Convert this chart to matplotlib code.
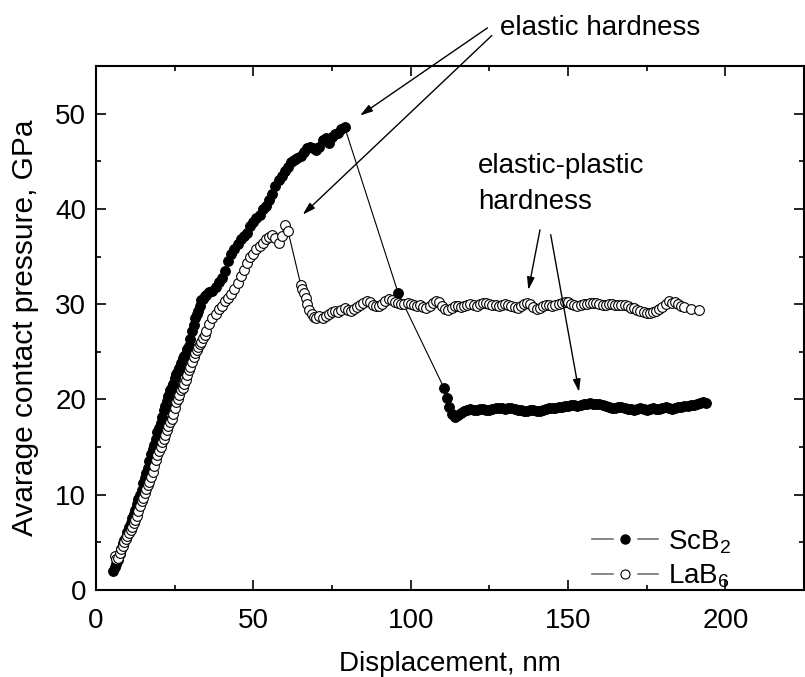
import numpy as np
import matplotlib.pyplot as plt
from matplotlib.lines import Line2D
from matplotlib.legend_handler import HandlerTuple
from matplotlib.ticker import MultipleLocator

plt.rcParams['font.family'] = ['Liberation Sans', 'DejaVu Sans']
plt.rcParams['mathtext.fontset'] = 'custom'
plt.rcParams['mathtext.rm'] = 'Liberation Sans'
plt.rcParams['mathtext.it'] = 'Liberation Sans'

# ScB2 - loading part, sudden drop, plateau
scb2_x = [5.5, 6, 6.5, 7, 7.5, 8, 8.5, 9, 9.5, 10, 10.5, 11, 11.5, 12, 12.5, 13, 13.5, 14, 14.5, 15,
          15.5, 16, 16.5, 17, 17.5, 18, 18.5, 19, 19.5, 20, 20.5, 21, 21.5, 22, 22.5, 23, 23.5, 24, 24.5, 25,
          25.5, 26, 26.5, 27, 27.5, 28, 28.5, 29, 29.5, 30, 30.5, 31, 31.5, 32, 32.5, 33, 33.5, 34, 34.5,
          35, 36, 37, 38, 39, 40, 41, 42, 43, 44, 45, 46, 47, 48, 49, 50, 51, 52, 53, 54, 55, 56, 57, 58,
          59, 60, 61, 62, 63, 64, 65, 66, 67, 68, 69, 70, 71, 72, 73, 74, 75, 76, 77, 78, 79,
          96, 110.6, 111.5, 112.3, 113, 114,
          115, 116, 117, 118, 119, 120, 121, 122, 123, 124, 125, 126, 127, 128, 129, 130, 131, 132, 133, 134,
          135, 136, 137, 138, 139, 140, 141, 142, 143, 144, 145, 146, 147, 148, 149, 150, 151, 152, 153, 154,
          155, 156, 157, 158, 159, 160, 161, 162, 163, 164, 165, 166, 167, 168, 169, 170, 171, 172, 173, 174,
          175, 176, 177, 178, 179, 180, 181, 182, 183, 184, 185, 186, 187, 188, 189, 190, 191, 192, 193, 194]
scb2_y = [2.0, 2.4, 2.7, 3.2, 3.8, 4.3, 4.9, 5.3, 5.6, 6.1, 6.6, 7.0, 7.6, 8.0, 8.4, 9.0, 9.6, 10.0, 10.5, 11.2,
          11.8, 12.3, 12.8, 13.5, 14.3, 14.8, 15.2, 15.9, 16.6, 17.0, 17.5, 18.2, 18.9, 19.3, 19.8, 20.4, 21.0, 21.3, 21.6, 22.2,
          22.7, 23.0, 23.3, 23.8, 24.4, 24.6, 24.8, 25.3, 25.6, 26.3, 27.2, 27.8, 28.6, 29.0, 29.3, 29.8, 30.4, 30.5, 30.9,
          31.0, 31.3, 31.4, 31.8, 32.3, 32.8, 33.5, 34.5, 35.3, 35.8, 36.3, 36.8, 37.2, 37.5, 38.2, 38.6, 39.0, 39.4, 40.0, 40.3, 40.9, 41.6, 42.4, 43.0,
          43.5, 44.0, 44.4, 44.9, 45.1, 45.3, 45.6, 46.0, 46.4, 46.5, 46.4, 46.2, 46.5, 47.2, 47.4, 46.9, 47.5, 47.9, 48.0, 48.4, 48.6,
          31.2, 21.2, 20.2, 19.2, 18.5, 18.2,
          18.4, 18.6, 18.8, 18.9, 19.0, 18.9, 18.9, 19.0, 19.0, 18.9, 18.9, 19.0, 19.1, 19.1, 19.1, 19.0, 19.1, 19.1, 19.0, 18.9,
          18.9, 18.8, 18.8, 18.9, 18.9, 18.8, 18.8, 18.9, 19.0, 19.1, 19.1, 19.1, 19.2, 19.2, 19.3, 19.3, 19.4, 19.4, 19.3, 19.4,
          19.5, 19.5, 19.6, 19.5, 19.5, 19.5, 19.4, 19.3, 19.2, 19.1, 19.1, 19.2, 19.2, 19.1, 19.0, 19.0, 18.9, 19.0, 19.1, 19.0,
          18.9, 19.0, 19.1, 19.0, 19.0, 19.1, 19.2, 19.1, 19.0, 19.1, 19.2, 19.2, 19.3, 19.3, 19.4, 19.4, 19.5, 19.6, 19.7, 19.6]

# LaB6
lab6_x = [6, 6.5, 7, 7.5, 8, 8.5, 9, 9.5, 10, 10.5, 11, 11.5, 12, 12.5, 13, 13.5, 14, 14.5, 15, 15.5,
          16, 16.5, 17, 17.5, 18, 18.5, 19, 19.5, 20, 20.5, 21, 21.5, 22, 22.5, 23, 23.5, 24, 24.5, 25, 25.5,
          26, 26.5, 27, 27.5, 28, 28.5, 29, 29.5, 30, 30.5, 31, 31.5, 32, 32.5, 33, 33.5, 34, 34.5,
          35, 36, 37, 38, 39, 40, 41, 42, 43, 44, 45, 46, 47, 48, 49, 50, 51, 52, 53, 54, 55, 56, 57, 58, 59, 60, 61,
          65.1, 65.6, 66.2, 66.7, 67.2, 67.8, 68.5, 69.3, 70, 71, 72, 73, 74, 75, 76, 77, 78, 79, 80,
          81, 82, 83, 84, 85, 86, 87, 88, 89, 90, 91, 92, 93, 94, 95, 96, 97, 98, 99, 100,
          101, 102, 103, 104, 105, 106, 107, 108, 109, 110, 111, 112, 113, 114, 115, 116, 117, 118, 119, 120,
          121, 122, 123, 124, 125, 126, 127, 128, 129, 130, 131, 132, 133, 134, 135, 136, 137, 138, 139, 140,
          141, 142, 143, 144, 145, 146, 147, 148, 149, 150, 151, 152, 153, 154, 155, 156, 157, 158, 159, 160,
          161, 162, 163, 164, 165, 166, 167, 168, 169, 170, 171, 172, 173, 174, 175, 176, 177, 178, 179, 180,
          181, 182, 183, 184, 185, 186, 187, 189, 191.5]
lab6_y = [3.6, 3.3, 3.4, 3.9, 4.3, 4.6, 5.0, 5.4, 5.7, 6.0, 6.3, 6.6, 7.0, 7.3, 7.8, 8.3, 8.8, 9.3, 9.7, 10.2,
          10.6, 11.0, 11.3, 11.9, 12.4, 13.0, 13.6, 14.2, 14.6, 15.0, 15.5, 15.9, 16.3, 16.8, 17.2, 17.6, 18.0, 18.5, 19.1, 19.7,
          20.0, 20.5, 21.0, 21.2, 21.6, 22.0, 22.6, 23.1, 23.4, 23.9, 24.5, 24.9, 25.2, 25.5, 25.8, 26.0, 26.4, 26.8,
          27.2, 27.9, 28.5, 29.0, 29.5, 29.8, 30.3, 30.6, 31.1, 31.6, 32.2, 33.0, 33.6, 34.3, 35.0, 35.3, 35.8, 36.1, 36.4, 36.8, 37.0, 37.3, 36.9, 36.4, 37.2, 38.3, 37.7,
          32.0, 31.6, 31.2, 30.6, 30.0, 29.4, 29.0, 28.7, 28.6, 28.8, 28.5, 28.8, 29.0, 29.2, 29.3, 29.2, 29.4, 29.6, 29.4,
          29.3, 29.5, 29.7, 29.9, 30.1, 30.3, 30.2, 29.9, 29.8, 29.8, 30.0, 30.3, 30.5, 30.4, 30.2, 30.1, 30.0, 30.0, 30.1, 30.0,
          29.9, 29.8, 29.9, 29.7, 29.6, 29.8, 30.1, 30.3, 30.2, 29.8, 29.5, 29.4, 29.6, 29.8, 29.8, 29.7, 29.8, 29.9, 30.0, 29.9,
          29.8, 30.0, 30.1, 30.1, 30.0, 29.9, 29.9, 29.8, 29.9, 30.0, 29.9, 29.8, 29.7, 29.6, 29.8, 30.0, 30.1, 30.0, 29.7, 29.5,
          29.6, 29.8, 29.9, 29.9, 29.8, 29.9, 30.0, 30.1, 30.2, 30.2, 30.0, 29.9, 29.8, 29.9, 30.0, 30.0, 30.1, 30.1, 30.1, 30.0,
          29.9, 29.9, 30.0, 30.0, 29.9, 29.9, 29.9, 29.9, 29.8, 29.6, 29.6, 29.4, 29.3, 29.2, 29.1, 29.1, 29.2, 29.3, 29.5, 29.7,
          30.0, 30.3, 30.1, 30.2, 30.0, 29.8, 29.7, 29.5, 29.4]

fs = 20
fig = plt.figure(figsize=(8.05, 6.77), dpi=100)
ax = fig.add_axes([96/805, 1-590/677, (804-96)/805, (590-66)/677])

ax.plot(scb2_x, scb2_y, '-o', color='k', lw=0.8, ms=7, mfc='k', mec='k', mew=0.8)
ax.plot(lab6_x, lab6_y, '-o', color='k', lw=0.8, ms=7, mfc='white', mec='k', mew=0.8)

ax.set_xlim(0, 225)
ax.set_ylim(0, 55)
ax.xaxis.set_major_locator(MultipleLocator(50))
ax.xaxis.set_minor_locator(MultipleLocator(25))
ax.yaxis.set_major_locator(MultipleLocator(10))
ax.yaxis.set_minor_locator(MultipleLocator(5))
ax.tick_params(which='both', direction='in', top=True, right=True, labelsize=fs, width=1.2)
ax.tick_params(which='major', length=7)
ax.tick_params(which='minor', length=3.5)
ax.tick_params(axis='x', pad=13)
ax.tick_params(axis='y', pad=7)
for s in ax.spines.values():
    s.set_linewidth(1.5)

ax.set_xlabel('Displacement, nm', fontsize=fs)
ax.set_ylabel('Avarage contact pressure, GPa', fontsize=21.5)
ax.xaxis.set_label_coords(0.5, -0.117)
ax.yaxis.set_label_coords(-0.081, 0.5)

# annotations
ax.text(128.3, 58.3, 'elastic hardness', fontsize=fs, clip_on=False)
ax.text(121.4, 43.8, 'elastic-plastic', fontsize=fs)
ax.text(121.4, 40.0, 'hardness', fontsize=fs)
arrow = dict(arrowstyle='-|>,head_length=1.0,head_width=0.3', color='k', lw=1,
             mutation_scale=7.5, shrinkA=0, shrinkB=0)
for start, tip in [((124.4, 59.0), (83.9, 49.8)), ((125.8, 58.2), (65.7, 39.4)),
                   ((141.1, 37.8), (137.4, 31.5)), ((144.5, 37.3), (153.5, 20.8))]:
    ax.annotate('', xy=tip, xytext=start, arrowprops=arrow, annotation_clip=False)

# legend
mask = dict(color='0.45', lw=1.2, marker='o', ms=16, mfc='white', mec='white')
h1 = (Line2D([], [], **mask), Line2D([], [], ls='none', marker='o', ms=6.5, mfc='k', mec='k'))
h2 = (Line2D([], [], **mask), Line2D([], [], ls='none', marker='o', ms=6.5, mfc='white', mec='k', mew=0.8))
ax.legend([h1, h2], ['ScB$_2$', 'LaB$_6$'], handler_map={tuple: HandlerTuple(ndivide=1)},
          frameon=False, fontsize=fs, handlelength=2.4, handletextpad=0.35, labelspacing=0.25,
          loc='center left', bbox_to_anchor=(0.70, 0.059), borderpad=0, borderaxespad=0)

fig.savefig('out.png', dpi=100)
